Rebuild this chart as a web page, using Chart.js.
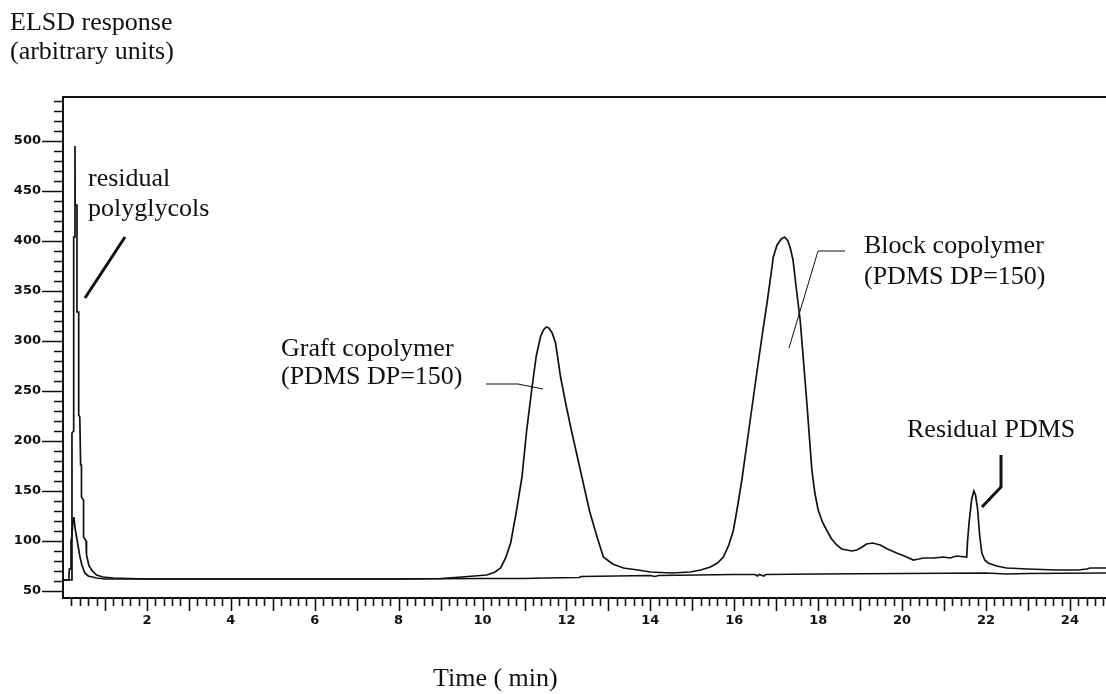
<!DOCTYPE html>
<html>
<head>
<meta charset="utf-8">
<title>ELSD chromatogram</title>
<script src="https://cdn.jsdelivr.net/npm/chart.js@4.4.1/dist/chart.umd.min.js"></script>
<style>
    body { margin: 0; background: #fff; }
    canvas { display: block; }
</style>
</head>
<body>
<canvas id="elsdChart" width="1106" height="694"></canvas>
<script>
// sample trace (with all peaks)
const sampleTime = [
    0, 0.2, 0.214, 0.214, 0.255, 0.255, 0.28, 0.286, 0.29, 0.333, 0.333, 0.374, 0.374, 0.40, 0.42, 0.44, 0.44, 0.49, 0.49, 0.55,
    0.56, 0.62, 0.7, 0.8, 0.95, 1.2, 1.6, 2.0, 3, 4, 5, 6, 7, 8, 9,
    9.5, 10.1, 10.3, 10.43, 10.55, 10.67, 10.8, 10.94, 11.05, 11.18, 11.28, 11.38, 11.45, 11.52, 11.58, 11.66, 11.74, 11.86, 11.98,
    12.1, 12.25, 12.4, 12.55, 12.73, 12.88, 13.1, 13.36, 13.7, 14.0, 14.5, 14.95, 15.2, 15.43, 15.6, 15.74, 15.87, 15.98,
    16.08, 16.18, 16.28, 16.38, 16.48, 16.58, 16.68, 16.78, 16.88, 16.93, 17.02, 17.12, 17.2, 17.28, 17.34, 17.4, 17.48, 17.57,
    17.65, 17.73, 17.79, 17.85, 17.92, 18.0, 18.1, 18.2, 18.32, 18.44, 18.56, 18.68, 18.8, 18.92, 19.05, 19.15, 19.3, 19.48,
    19.65, 19.87, 20.05, 20.27, 20.4, 20.5, 20.75, 20.98, 21.14, 21.3, 21.54, 21.56, 21.6, 21.66, 21.71, 21.75, 21.8, 21.85,
    21.9, 21.97, 22.05, 22.25, 22.49, 23.0, 23.68, 24.2, 24.4, 24.48, 24.86
];
const sampleSignal = [
    61, 61, 70, 208, 210, 404, 404, 495, 436, 436, 329, 329, 226, 224, 176, 176, 144, 141, 104, 100,
    86, 75, 70, 66, 64, 63, 62.5, 62, 62, 62, 62, 62, 62, 62, 62.5,
    64, 66, 69, 73, 83, 98, 128, 164, 210, 254, 285, 304, 311, 314, 313, 308, 298, 264, 238,
    214, 186, 158, 130, 104, 84, 77, 73, 71, 69, 68, 69, 71, 74, 78, 84, 96, 111,
    135, 161, 191, 221, 251, 281, 310, 338, 368, 384, 396, 402, 404, 400, 392, 381, 352, 321,
    280, 238, 204, 171, 148, 131, 119, 111, 102, 96, 92, 91, 90, 91, 94, 97, 98, 96,
    92, 88, 85, 81, 82, 83, 83, 84, 83, 85, 84, 100, 120, 142, 150, 146, 132, 105,
    88, 81, 78, 75, 73, 72, 71, 71, 72, 73, 73
];

// lower trace (small early peak, flat afterwards)
const blankTime = [
    0, 0.14, 0.15, 0.18, 0.19, 0.21, 0.24, 0.26, 0.29, 0.32, 0.36, 0.40, 0.45, 0.52, 0.6, 0.8, 1.0, 2, 5, 8,
    10, 11, 11.5, 12.3, 12.35, 14, 14.1, 14.2, 16, 16.5, 16.55, 16.6, 16.7, 16.75, 18, 20, 22, 22.5, 23, 24.86
];
const blankSignal = [
    61, 61, 72, 72, 100, 104, 122, 124, 112, 105, 95, 85, 76, 68, 65, 63, 62, 62, 62, 62,
    62.5, 62.5, 63, 63.5, 64.5, 65.5, 64.5, 65.5, 66.5, 66.5, 65, 66.5, 65, 66.5, 67, 67.5, 68, 67, 67.5, 68
];

// axis ticks
const xMinorStep = 0.2;
const xTickCount = 124;
const xLabelEvery = 2;
const yTickValues = [50, 60, 70, 80, 90, 100, 110, 120, 130, 140, 150, 160, 170, 180, 190, 200, 210, 220, 230, 240, 250,
    260, 270, 280, 290, 300, 310, 320, 330, 340, 350, 360, 370, 380, 390, 400, 410, 420, 430, 440, 450, 460, 470, 480,
    490, 500, 510, 520, 530, 540];
const yLabelValues = [50, 100, 150, 200, 250, 300, 350, 400, 450, 500];

const INK = '#111';
const SERIF = '"Liberation Serif", "Times New Roman", serif';
const TICK_FONT = { family: '"DejaVu Sans", sans-serif', size: 13, weight: 'bold' };

function isInt(v) {
    return Math.abs(v - Math.round(v)) < 1e-6;
}

// hand drawn tick marks and the top frame line
const tickMarks = {
    id: 'tickMarks',
    afterDraw(chart) {
        const { ctx, chartArea, scales: { x, y } } = chart;
        ctx.save();
        ctx.strokeStyle = INK;
        ctx.lineWidth = 2;
        ctx.beginPath();
        ctx.moveTo(chartArea.left - 1, chartArea.top);
        ctx.lineTo(chartArea.right, chartArea.top);
        ctx.stroke();

        ctx.lineWidth = 1.6;
        ctx.beginPath();
        x.ticks.forEach(t => {
            const px = Math.round(x.getPixelForValue(t.value)) + 0.5;
            const len = isInt(t.value) ? 13 : 8;
            ctx.moveTo(px, chartArea.bottom);
            ctx.lineTo(px, chartArea.bottom + len);
        });
        y.ticks.forEach(t => {
            const py = Math.round(y.getPixelForValue(t.value)) + 0.5;
            const len = t.value % 50 === 0 ? 21 : 9;
            ctx.moveTo(chartArea.left, py);
            ctx.lineTo(chartArea.left - len, py);
        });
        ctx.stroke();
        ctx.restore();
    }
};

// text labels and leader lines
const annotations = {
    id: 'annotations',
    afterDraw(chart) {
        const ctx = chart.ctx;
        ctx.save();
        ctx.fillStyle = INK;
        ctx.font = '26px ' + SERIF;
        ctx.textAlign = 'left';
        ctx.textBaseline = 'alphabetic';
        ctx.fillText('ELSD response', 10, 30);
        ctx.fillText('(arbitrary units)', 10, 59);
        ctx.fillText('residual', 88, 186);
        ctx.fillText('polyglycols', 88, 216);
        ctx.fillText('Graft copolymer', 281, 356);
        ctx.fillText('(PDMS DP=150)', 281, 384);
        ctx.fillText('Block copolymer', 864, 253);
        ctx.fillText('(PDMS DP=150)', 864, 284);
        ctx.fillText('Residual PDMS', 907, 437);
        ctx.fillText('Time ( min)', 433, 686);

        ctx.strokeStyle = INK;
        // thick leaders
        ctx.lineWidth = 3;
        ctx.beginPath();
        ctx.moveTo(125, 237);
        ctx.lineTo(85, 298);
        ctx.moveTo(1001, 455);
        ctx.lineTo(1001, 487);
        ctx.lineTo(982, 507);
        ctx.stroke();
        // thin leaders
        ctx.lineWidth = 1;
        ctx.beginPath();
        ctx.moveTo(486, 384);
        ctx.lineTo(518, 384);
        ctx.lineTo(543, 389);
        ctx.moveTo(845, 251);
        ctx.lineTo(818, 251);
        ctx.lineTo(789, 348);
        ctx.stroke();
        ctx.restore();
    }
};

const ctx = document.getElementById('elsdChart').getContext('2d');
new Chart(ctx, {
    type: 'line',
    data: {
        datasets: [
            {
                label: 'Sample',
                data: sampleTime.map((t, i) => ({ x: t, y: sampleSignal[i] })),
                borderColor: INK,
                borderWidth: 1.7,
                pointRadius: 0,
                tension: 0,
                fill: false
            },
            {
                label: 'Lower trace',
                data: blankTime.map((t, i) => ({ x: t, y: blankSignal[i] })),
                borderColor: INK,
                borderWidth: 1.7,
                pointRadius: 0,
                tension: 0,
                fill: false
            }
        ]
    },
    options: {
        responsive: false,
        animation: false,
        layout: {
            padding: { top: 97, right: 0, left: 0, bottom: 0 }
        },
        plugins: {
            legend: { display: false },
            tooltip: { enabled: false }
        },
        scales: {
            x: {
                type: 'linear',
                min: 0,
                max: 24.86,
                afterBuildTicks: scale => {
                    const ticks = [];
                    for (let i = 1; i <= xTickCount; i++) {
                        ticks.push({ value: i * xMinorStep });
                    }
                    scale.ticks = ticks;
                },
                afterFit: scale => {
                    scale.height = 96;
                    scale.paddingLeft = 0;
                    scale.paddingRight = 0;
                },
                grid: { display: false, drawTicks: false },
                border: { display: true, color: INK, width: 2 },
                ticks: {
                    autoSkip: false,
                    maxRotation: 0,
                    padding: 15,
                    color: INK,
                    font: TICK_FONT,
                    callback: value => {
                        const r = Math.round(value);
                        return isInt(value) && r % xLabelEvery === 0 ? String(r) : '';
                    }
                }
            },
            y: {
                min: 43,
                max: 544,
                afterBuildTicks: scale => {
                    scale.ticks = yTickValues.map(v => ({ value: v }));
                },
                afterFit: scale => {
                    scale.width = 63;
                    scale.paddingTop = 0;
                    scale.paddingBottom = 0;
                },
                grid: { display: false, drawTicks: false },
                border: { display: true, color: INK, width: 2 },
                ticks: {
                    autoSkip: false,
                    padding: 22,
                    color: INK,
                    font: TICK_FONT,
                    callback: value => yLabelValues.includes(value) ? String(value) : ''
                }
            }
        }
    },
    plugins: [tickMarks, annotations]
});
</script>
</body>
</html>
